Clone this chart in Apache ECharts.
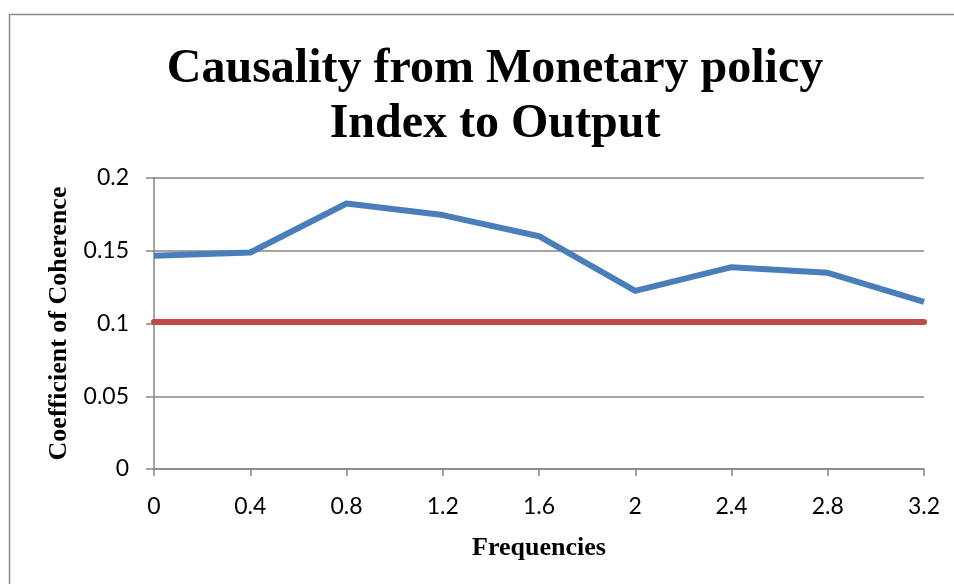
<!DOCTYPE html>
<html>
<head>
<meta charset="utf-8">
<script src="https://cdn.jsdelivr.net/npm/echarts@6/dist/echarts.min.js"></script>
<style>
html,body{margin:0;padding:0;background:#fff;}
#chart{width:954px;height:584px;}
</style>
</head>
<body>
<div id="chart"></div>
<script>
const titleText = 'Causality from Monetary policy\nIndex to Output';
const xAxisTitle = 'Frequencies';
const yAxisTitle = 'Coefficient of Coherence';
const frequencies = ['0', '0.4', '0.8', '1.2', '1.6', '2', '2.4', '2.8', '3.2'];
const coherence = [0.1465, 0.1488, 0.1825, 0.1745, 0.1600, 0.1224, 0.1387, 0.1348, 0.1149];
const threshold = [0.101, 0.101, 0.101, 0.101, 0.101, 0.101, 0.101, 0.101, 0.101];

const chart = echarts.init(document.getElementById('chart'), null, {renderer: 'canvas'});
const axisGray = '#868686';
chart.setOption({
  animation: false,
  backgroundColor: '#ffffff',
  graphic: [{
    type: 'rect',
    shape: {x: 9.5, y: 14.5, width: 1000, height: 1000},
    style: {fill: 'none', stroke: '#8c8c8c', lineWidth: 1.5},
    silent: true
  }],
  title: {
    text: titleText,
    left: 490,
    top: 37,
    textAlign: 'center',
    textStyle: {
      fontFamily: '"Liberation Serif", "Times New Roman", serif',
      fontWeight: 'bold',
      fontSize: 48,
      lineHeight: 55,
      color: '#000'
    }
  },
  grid: {left: 154, right: 30, top: 178, bottom: 115, containLabel: false},
  xAxis: {
    type: 'category',
    data: frequencies,
    boundaryGap: false,
    name: xAxisTitle,
    nameLocation: 'middle',
    nameGap: 66,
    nameTextStyle: {
      fontFamily: '"Liberation Serif", "Times New Roman", serif',
      fontWeight: 'bold',
      fontSize: 26,
      color: '#000'
    },
    axisLine: {lineStyle: {color: axisGray, width: 1.5}},
    axisTick: {show: true, length: 7, alignWithLabel: true, lineStyle: {color: axisGray, width: 1.5}},
    axisLabel: {
      margin: 26,
      fontFamily: 'Lato, "Open Sans", sans-serif',
      fontSize: 23,
      color: '#000'
    },
    splitLine: {show: false}
  },
  yAxis: {
    type: 'value',
    min: 0,
    max: 0.2,
    interval: 0.05,
    name: yAxisTitle,
    nameLocation: 'middle',
    nameRotate: 90,
    nameGap: 78,
    nameTextStyle: {
      fontFamily: '"Liberation Serif", "Times New Roman", serif',
      fontWeight: 'bold',
      fontSize: 26,
      color: '#000'
    },
    axisLine: {show: true, lineStyle: {color: axisGray, width: 1.5}},
    axisTick: {show: true, length: 8, lineStyle: {color: axisGray, width: 1.5}},
    axisLabel: {
      margin: 25,
      fontFamily: 'Lato, "Open Sans", sans-serif',
      fontSize: 23,
      color: '#000'
    },
    splitLine: {show: true, lineStyle: {color: axisGray, width: 1.5}}
  },
  series: [
    {
      name: 'Coherence',
      type: 'line',
      data: coherence,
      symbol: 'none',
      lineStyle: {color: '#4a7ebb', width: 6, join: 'round'},
      itemStyle: {color: '#4a7ebb'},
      z: 3
    },
    {
      name: 'Threshold',
      type: 'line',
      data: threshold,
      symbol: 'none',
      lineStyle: {color: '#be4b48', width: 6, cap: 'round'},
      itemStyle: {color: '#be4b48'},
      z: 2
    }
  ]
});
</script>
</body>
</html>
